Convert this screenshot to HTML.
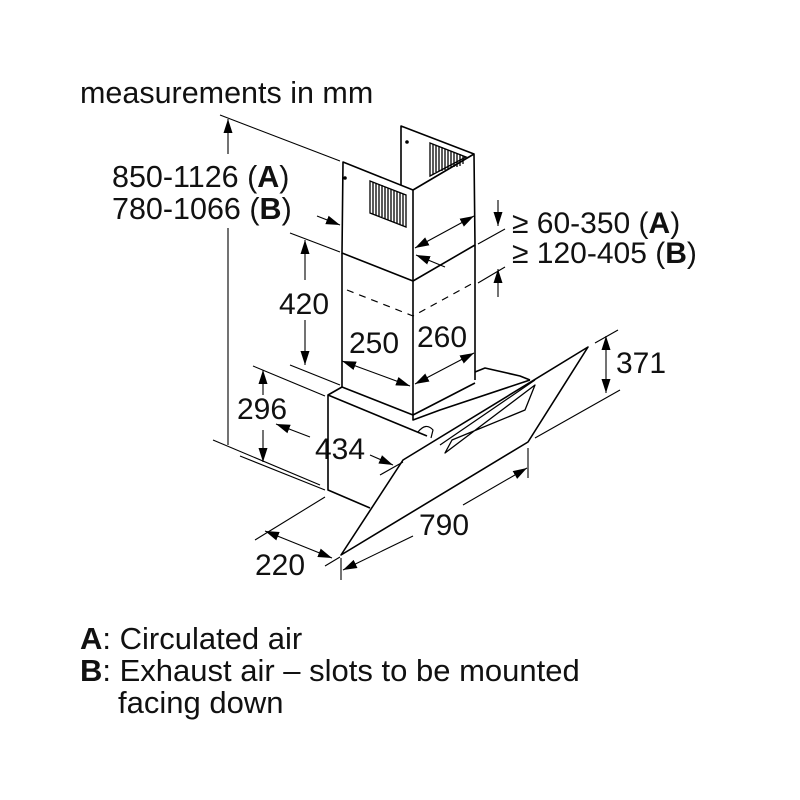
<!DOCTYPE html>
<html><head><meta charset="utf-8"><style>
html,body{margin:0;padding:0;background:#fff;width:800px;height:800px;overflow:hidden}
svg text{font-family:"Liberation Sans",sans-serif;fill:#111}
</style></head><body>
<svg width="800" height="800" viewBox="0 0 800 800" xmlns="http://www.w3.org/2000/svg">
<defs>
<marker id="a" viewBox="0 0 14 10" refX="14" refY="5" markerWidth="14" markerHeight="10" orient="auto-start-reverse" markerUnits="userSpaceOnUse"><path d="M0,0.5 L14,5 L0,9.5 z" fill="#000"/></marker>
</defs>
<g font-size="30">
<text x="80" y="103" font-size="30.5">measurements in mm</text>
<text x="112" y="187" font-size="30.5">850-1126 (<tspan font-weight="bold">A</tspan>)</text>
<text x="112" y="219" font-size="30.5">780-1066 (<tspan font-weight="bold">B</tspan>)</text>
<text x="417" y="213">257</text>
<text x="347" y="251">247</text>
<text x="279" y="314">420</text>
<text x="349" y="353">250</text>
<text x="417" y="347">260</text>
<text x="237" y="419">296</text>
<text x="315" y="459">434</text>
<text x="419" y="535">790</text>
<text x="255" y="575">220</text>
<text x="616" y="373">371</text>
<text x="512" y="233">≥ 60-350 (<tspan font-weight="bold">A</tspan>)</text>
<text x="512" y="263">≥ 120-405 (<tspan font-weight="bold">B</tspan>)</text>
</g>
<g font-size="31">
<text x="80" y="649"><tspan font-weight="bold">A</tspan>: Circulated air</text>
<text x="80" y="681"><tspan font-weight="bold">B</tspan>: Exhaust air – slots to be mounted</text>
<text x="118" y="713">facing down</text>
</g>
<g fill="none" stroke="#000" stroke-width="1.6" stroke-linejoin="round">
<polyline points="401,190 401,126 474,154"/>
<polygon points="343,162 413,190 474,154 475,245 413,281 342,253" fill="#fff"/>
<line x1="413" y1="190" x2="413" y2="281"/>
<polyline points="342,253 342,387"/>
<polyline points="413,281 413,415"/>
<polyline points="475,245 475,380"/>
<polyline points="347,290 413,316 475,282" stroke-dasharray="7,6" stroke-width="1.2"/>
<polyline points="342,387 328,395 328,490 370,508"/>
<polyline points="328,395 427,436"/>
<polyline points="342,387 413,415 475,383"/>
<polyline points="475,372 485,368 520,376 530,380"/>
<polyline points="413,415 413,420 440,410 530,380"/>
<polygon points="341,555 528,442 588,347 403,460" fill="#fff"/>
<polygon points="445,453 535,385 525,410 452,440" stroke-width="1.3"/>
<line x1="440" y1="445" x2="535" y2="380" stroke-width="1.2"/>
<path d="M418,432 q8,-10 15,-2 l-2,8" stroke-width="1.2"/>
</g>
<!-- vents -->
<g stroke="#000" stroke-width="1.3" fill="none">
<polygon points="370,181 406,195 406,227 370,213"/>
<path d="M373,182v32M376,183v32M379,184v32M382,185v32M385,187v32M388,188v32M391,189v32M394,190v32M397,191v32M400,193v32M403,194v32"/>
<polygon points="430,143 466,157 430,176"/>
<path d="M433,144v30M436,145v27M439,146v25M442,147v24M445,149v21M448,150v19M451,151v17M454,152v15M457,153v14M460,154v12M463,156v8"/>
</g>
<circle cx="345" cy="178" r="1.8" fill="#000"/>
<circle cx="407" cy="142" r="1.8" fill="#000"/>
<g stroke="#000" stroke-width="1.1" fill="none">
<line x1="220" y1="115" x2="340" y2="161"/>
<line x1="228" y1="119" x2="228" y2="154" marker-start="url(#a)"/>
<line x1="228" y1="228" x2="228" y2="445"/>
<line x1="213" y1="440" x2="320" y2="485"/>
<line x1="317" y1="216" x2="340" y2="225" marker-end="url(#a)"/>
<line x1="290" y1="233" x2="340" y2="252"/>
<line x1="305" y1="240" x2="305" y2="280" marker-start="url(#a)"/>
<line x1="305" y1="320" x2="305" y2="365" marker-end="url(#a)"/>
<line x1="290" y1="365" x2="340" y2="385"/>
<line x1="342" y1="361" x2="410" y2="386" marker-start="url(#a)" marker-end="url(#a)"/>
<line x1="415" y1="384" x2="474" y2="353" marker-start="url(#a)" marker-end="url(#a)"/>
<line x1="415" y1="248" x2="474" y2="216" marker-start="url(#a)" marker-end="url(#a)"/>
<line x1="416" y1="255" x2="445" y2="267" marker-start="url(#a)"/>
<line x1="478" y1="244" x2="505" y2="229"/>
<line x1="478" y1="283" x2="505" y2="267"/>
<line x1="498" y1="200" x2="498" y2="226" marker-end="url(#a)"/>
<line x1="498" y1="297" x2="498" y2="269" marker-end="url(#a)"/>
<line x1="253" y1="366" x2="325" y2="396"/>
<line x1="263" y1="370" x2="263" y2="395" marker-start="url(#a)"/>
<line x1="263" y1="430" x2="263" y2="462" marker-end="url(#a)"/>
<line x1="240" y1="456" x2="325" y2="490"/>
<line x1="276" y1="424" x2="310" y2="437" marker-start="url(#a)"/>
<line x1="370" y1="455" x2="393" y2="465" marker-end="url(#a)"/>
<line x1="380" y1="475" x2="403" y2="462"/>
<line x1="255" y1="540" x2="325" y2="497"/>
<line x1="265" y1="531" x2="332" y2="558" marker-start="url(#a)" marker-end="url(#a)"/>
<line x1="325" y1="566" x2="340" y2="557"/>
<line x1="341" y1="558" x2="341" y2="580"/>
<line x1="528" y1="448" x2="528" y2="478"/>
<line x1="343" y1="570" x2="413" y2="536" marker-start="url(#a)"/>
<line x1="463" y1="505" x2="527" y2="468" marker-end="url(#a)"/>
<line x1="595" y1="343" x2="618" y2="330"/>
<line x1="535" y1="438" x2="620" y2="390"/>
<line x1="606" y1="336" x2="606" y2="393" marker-start="url(#a)" marker-end="url(#a)"/>
</g>
</svg>
</body></html>
